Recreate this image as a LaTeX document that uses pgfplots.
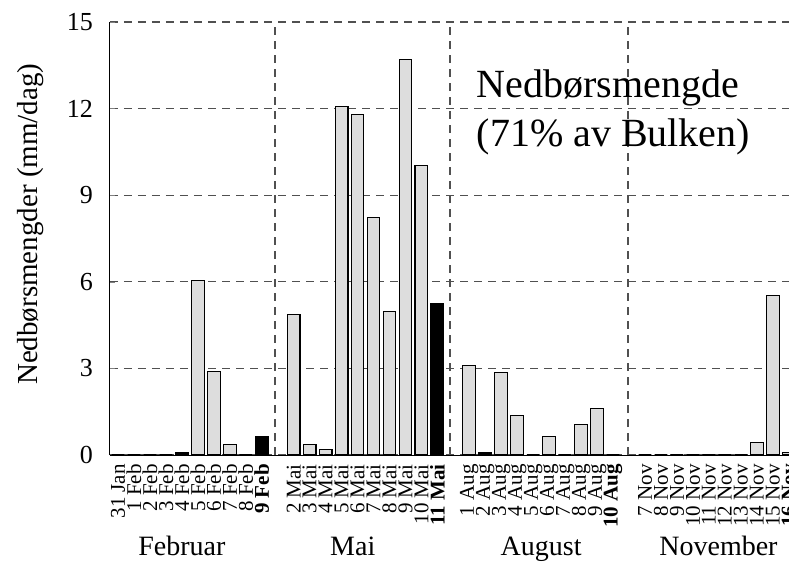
\documentclass[border=0pt]{standalone}
\usepackage{fontspec}
\setmainfont{Liberation Serif}
\usepackage{pgfplots}
\pgfplotsset{compat=1.18}
\definecolor{BarGray}{RGB}{221,221,221}
\definecolor{GridGray}{RGB}{80,80,80}

\begin{document}
\begin{tikzpicture}
  % the reference is cut off at its right edge
  \path[use as bounding box] (-110bp,-107bp) rectangle (679bp,455bp);
  \begin{axis}[
      at={(0,0)}, anchor=south west,
      scale only axis, width=688.3bp, height=433bp,
      xmin=-0.5, xmax=42.6, ymin=0, ymax=15,
      axis lines=left, axis line style={-, line width=1bp},
      clip=false,
      ytick={0,3,...,15},
      yticklabel style={font=\fontsize{26bp}{30bp}\selectfont, inner sep=0pt, xshift=-17bp},
      /pgf/number format/assume math mode=true,
      tick align=inside, major tick length=5bp,
      ymajorgrids,
      grid style={GridGray, line width=1.2bp, dash pattern=on 8bp off 6bp},
      xtick={0,...,9,11,12,...,20,22,23,...,31,33,34,...,42},
      xticklabels={31 Jan,1 Feb,2 Feb,3 Feb,4 Feb,5 Feb,6 Feb,7 Feb,8 Feb,\textbf{9 Feb},
        2 Mai,3 Mai,4 Mai,5 Mai,6 Mai,7 Mai,8 Mai,9 Mai,10 Mai,\textbf{11 Mai},
        1 Aug,2 Aug,3 Aug,4 Aug,5 Aug,6 Aug,7 Aug,8 Aug,9 Aug,\textbf{10 Aug},
        7 Nov,8 Nov,9 Nov,10 Nov,11 Nov,12 Nov,13 Nov,14 Nov,15 Nov,\textbf{16 Nov}},
      xtick style={draw=none},
      xticklabel style={yshift=-9bp, rotate=90, anchor=east, inner sep=0pt,
        font=\fontsize{21bp}{21bp}\selectfont},
      extra x ticks={9.83,20.79,31.93},
      extra x tick labels={},
      extra x tick style={grid=major, xtick style={draw=none}},
      ylabel={Nedbørsmengder (mm/dag)},
      ylabel style={at={(axis description cs:-0.0916,0.533)}, anchor=south,
        font=\fontsize{29bp}{34bp}\selectfont},
  ]
  % grey bars
  \addplot[ybar, bar width=0.8, fill=BarGray, draw=black, line width=1.1bp] coordinates {
    (0,0)(1,0)(2,0)(3,0)(4,0.07)(5,6.03)(6,2.9)(7,0.37)(8,0)
    (11,4.87)(12,0.35)(13,0.2)(14,12.06)(15,11.78)(16,8.23)(17,4.96)(18,13.70)(19,10.02)
    (22,3.1)(23,0.07)(24,2.86)(25,1.36)(26,0)(27,0.63)(28,0)(29,1.07)(30,1.62)(31,0)
    (33,0)(34,0)(35,0)(36,0)(37,0)(38,0)(39,0)(40,0.42)(41,5.53)(42,0.08)
  };
  % highlighted days
  \addplot[ybar, bar width=0.8, fill=black, draw=black, line width=1.1bp] coordinates {
    (9,0.65)(20,5.26)
  };
  \node[anchor=base west, inner sep=0pt, font=\fontsize{40bp}{48bp}\selectfont] at (axis cs:22.45,12.4) {Nedbørsmengde};
  \node[anchor=base west, inner sep=0pt, font=\fontsize{40bp}{48bp}\selectfont] at (axis cs:22.45,10.67) {(71\% av Bulken)};
  \node[anchor=base, inner sep=0pt, font=\fontsize{28bp}{34bp}\selectfont] at (axis cs:4,0) [yshift=-100bp] {Februar};
  \node[anchor=base, inner sep=0pt, font=\fontsize{28bp}{34bp}\selectfont] at (axis cs:14.7,0) [yshift=-100bp] {Mai};
  \node[anchor=base, inner sep=0pt, font=\fontsize{28bp}{34bp}\selectfont] at (axis cs:26.5,0) [yshift=-100bp] {August};
  \node[anchor=base, inner sep=0pt, font=\fontsize{28bp}{34bp}\selectfont] at (axis cs:37.6,0) [yshift=-100bp] {November};
  \end{axis}
\end{tikzpicture}
\end{document}
